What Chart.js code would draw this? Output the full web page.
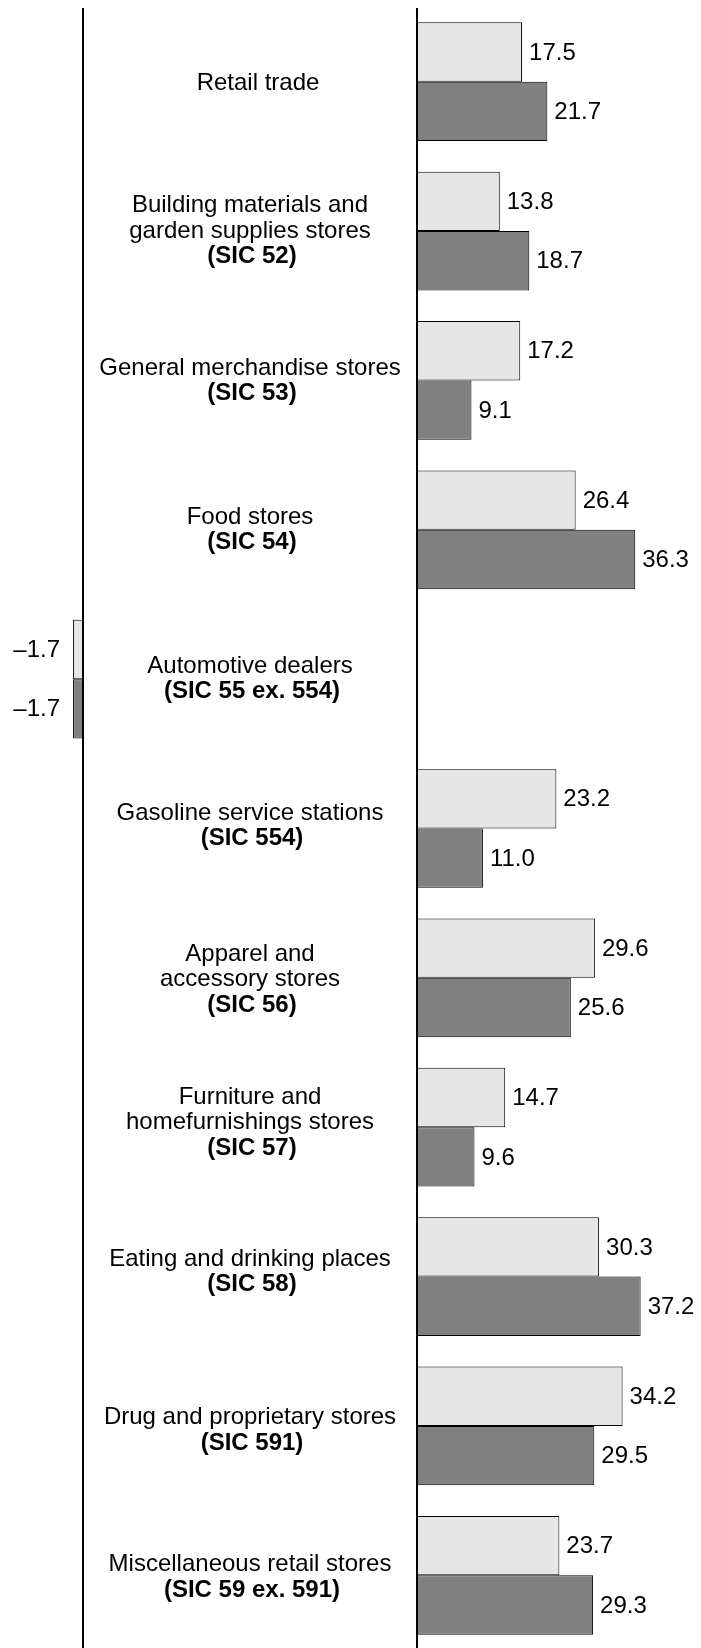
<!DOCTYPE html>
<html><head><meta charset="utf-8">
<script src="https://cdn.jsdelivr.net/npm/chart.js@4/dist/chart.umd.min.js"></script>
<style>html,body{margin:0;padding:0;background:#fff;overflow:hidden}#wrap{width:701px;height:1650px;position:relative}</style>
</head><body><div id="wrap"><canvas id="c"></canvas></div>
<script>
// ---- data ----
const categoryLines = [
  ["Retail trade"],
  ["Building materials and", "garden supplies stores"],
  ["General merchandise stores"],
  ["Food stores"],
  ["Automotive dealers"],
  ["Gasoline service stations"],
  ["Apparel and", "accessory stores"],
  ["Furniture and", "homefurnishings stores"],
  ["Eating and drinking places"],
  ["Drug and proprietary stores"],
  ["Miscellaneous retail stores"]
];
const sicCodes = ["", "(SIC 52)", "(SIC 53)", "(SIC 54)", "(SIC 55 ex. 554)", "(SIC 554)",
  "(SIC 56)", "(SIC 57)", "(SIC 58)", "(SIC 591)", "(SIC 59 ex. 591)"];
const lightValues = [17.5, 13.8, 17.2, 26.4, -1.7, 23.2, 29.6, 14.7, 30.3, 34.2, 23.7];
const darkValues  = [21.7, 18.7, 9.1, 36.3, -1.7, 11.0, 25.6, 9.6, 37.2, 29.5, 29.3];

// ---- styling ----
const LIGHT = '#e6e6e6', DARK = '#808080';
const FONT = '"Liberation Sans", Arial, Helvetica, sans-serif';
const PX_PER_UNIT = 6.02;
const POS_ZERO = 416.7, NEG_ZERO = 83.3, WIDTH = 701;
// small per-category vertical nudges of the category label blocks (px)
const labelNudge = [2, 0, 0.5, 0.5, 0, -2.5, 2, -4.5, -4.7, 4.5, 2];
// horizontal shift (px) so "Retail trade" sits where the reference puts it
const labelShiftX = [8, 0, 0, 0, 0, 0, 0, 0, 0, 0, 0];

const labels = categoryLines.map((l, i) => l.join(' ') + (sicCodes[i] ? ' ' + sicCodes[i] : ''));
const posOnly = a => a.map(v => v >= 0 ? v : null);
const negOnly = a => a.map(v => v < 0 ? v : null);
const fmt = v => (v < 0 ? '\u2013' : '') + Math.abs(v).toFixed(1);

const barCommon = {borderColor: '#000', borderWidth: 1, barPercentage: 1.0, categoryPercentage: 0.795};

const overlay = {
  id: 'overlay',
  afterDatasetsDraw(chart) {
    const ctx = chart.ctx, ca = chart.chartArea, y = chart.scales.y;
    ctx.save();
    // axis lines at zero of each value scale
    ctx.strokeStyle = '#000'; ctx.lineWidth = 2;
    ['xPos', 'xNeg'].forEach(id => {
      const x = Math.round(chart.scales[id].getPixelForValue(0));
      ctx.beginPath(); ctx.moveTo(x, ca.top + 1); ctx.lineTo(x, ca.bottom); ctx.stroke();
    });
    // value labels
    ctx.fillStyle = '#000'; ctx.textBaseline = 'middle';
    ctx.font = '24px ' + FONT;
    chart.data.datasets.forEach((ds, i) => {
      const meta = chart.getDatasetMeta(i);
      meta.data.forEach((bar, j) => {
        const v = ds.data[j];
        if (v == null) return;
        if (v >= 0) { ctx.textAlign = 'left'; ctx.fillText(fmt(v), bar.x + 7, bar.y + 1); }
        else { ctx.textAlign = 'right'; ctx.fillText(fmt(v), bar.x - 13, bar.y + 1); }
      });
    });
    // category labels
    const lh = 25.2;
    const xc = (chart.scales.xNeg.getPixelForValue(0) + chart.scales.xPos.getPixelForValue(0)) / 2;
    ctx.textAlign = 'center';
    categoryLines.forEach((lines, i) => {
      const items = lines.map(t => ({t, b: false}));
      if (sicCodes[i]) items.push({t: sicCodes[i], b: true});
      const cy = y.getPixelForValue(i) + labelNudge[i];
      let ly = cy - (items.length - 1) * lh / 2;
      items.forEach(it => {
        ctx.font = (it.b ? 'bold ' : '') + '24px ' + FONT;
        ctx.fillText(it.t, xc + (it.b ? 2 : 0) + labelShiftX[i], ly);
        ly += lh;
      });
    });
    ctx.restore();
  }
};

new Chart(document.getElementById('c'), {
  type: 'bar',
  data: {
    labels,
    datasets: [
      Object.assign({label: 'light', data: posOnly(lightValues), backgroundColor: LIGHT, xAxisID: 'xPos', stack: 'a'}, barCommon),
      Object.assign({label: 'dark', data: posOnly(darkValues), backgroundColor: DARK, xAxisID: 'xPos', stack: 'b'}, barCommon),
      Object.assign({label: 'light neg', data: negOnly(lightValues), backgroundColor: LIGHT, xAxisID: 'xNeg', stack: 'a'}, barCommon),
      Object.assign({label: 'dark neg', data: negOnly(darkValues), backgroundColor: DARK, xAxisID: 'xNeg', stack: 'b'}, barCommon)
    ]
  },
  options: {
    indexAxis: 'y',
    responsive: true, maintainAspectRatio: false, animation: false, devicePixelRatio: 1,
    layout: {padding: {top: 7, left: 0, right: 0, bottom: 0}},
    plugins: {legend: {display: false}, tooltip: {enabled: false}},
    scales: {
      y: {display: false, grid: {display: false}},
      xPos: {type: 'linear', axis: 'x', display: false, stacked: false,
        min: -POS_ZERO / PX_PER_UNIT, max: (WIDTH - POS_ZERO) / PX_PER_UNIT},
      xNeg: {type: 'linear', axis: 'x', display: false, stacked: false,
        min: -NEG_ZERO / PX_PER_UNIT, max: (WIDTH - NEG_ZERO) / PX_PER_UNIT}
    }
  },
  plugins: [overlay]
});
</script></body></html>
